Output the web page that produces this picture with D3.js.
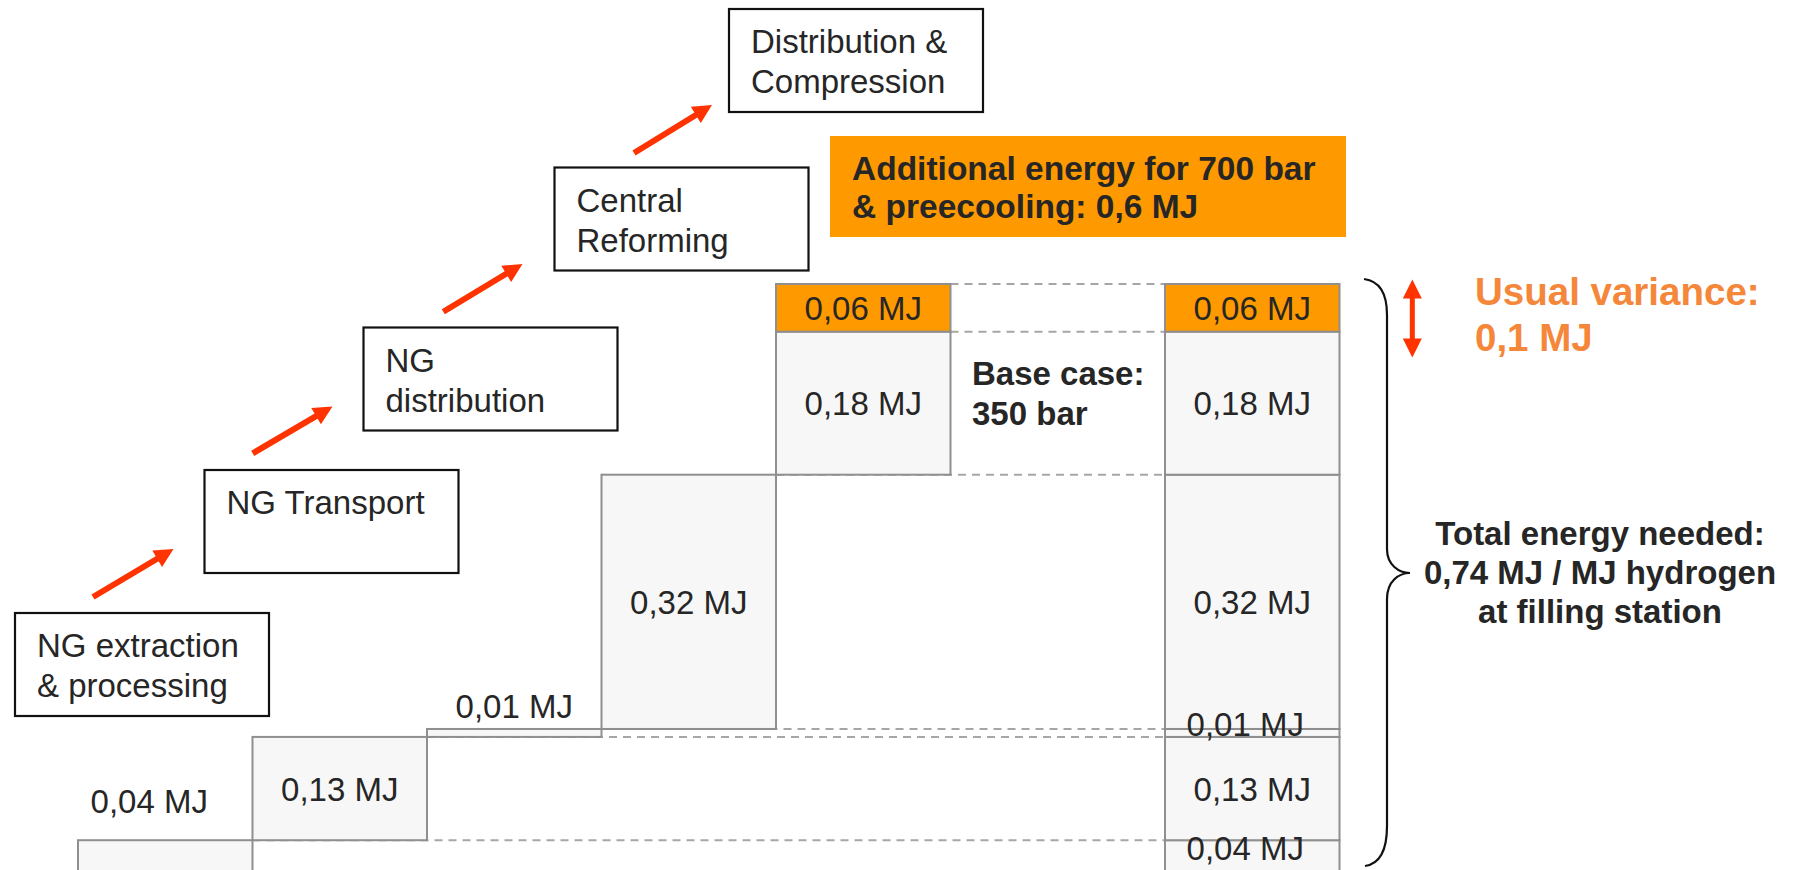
<!DOCTYPE html>
<html>
<head>
<meta charset="utf-8">
<script src="https://cdn.jsdelivr.net/npm/d3@7/dist/d3.min.js"></script>
<style>
  html, body { margin: 0; padding: 0; background: #ffffff; }
  svg { display: block; }
  text { font-family: "Liberation Sans", Arial, sans-serif; }
</style>
</head>
<body>
<svg id="chart" width="1793" height="870"></svg>
<script>
// ---------------- DATA ----------------
const steps = ["NG extraction & processing", "NG Transport", "NG distribution", "Central Reforming", "Distribution & Compression"];
const stepLines = [["NG extraction", "& processing"], ["NG Transport"], ["NG", "distribution"], ["Central", "Reforming"], ["Distribution &", "Compression"]];
const stepValues = [0.04, 0.13, 0.01, 0.32, 0.18];
const extraValue = 0.06;           // additional 700 bar & precooling on top of last step
const totalValue = 0.74;
const unit = "MJ";
const extraNote = ["Additional energy for 700 bar", "& preecooling: 0,6 MJ"];
const baseCaseNote = ["Base case:", "350 bar"];
const varianceNote = ["Usual variance:", "0,1 MJ"];
const totalNote = ["Total energy needed:", "0,74 MJ / MJ hydrogen", "at filling station"];

// ---------------- LAYOUT ----------------
const W = 1793, H = 870;
const svg = d3.select("#chart");
const C = {
  text: "#262626", barFill: "#f7f7f7", barStroke: "#8f8f8f", dash: "#a6a6a6",
  orange: "#ff9900", arrow: "#ff3300", variance: "#f5873b"
};
const y = d3.scaleLinear().domain([0, totalValue]).range([872, 284]);
const x = d3.scaleBand().domain(steps).range([78, 950.5]).paddingInner(0);
const bw = x.bandwidth();
const xTotal = 1165;

const locale = d3.formatLocale({ decimal: ",", thousands: ".", grouping: [3], currency: ["", "€"] });
const fmt = v => locale.format(".2f")(v) + " " + unit;

// cumulative positions
let cum = 0;
const stepBars = stepValues.map((v, i) => { const b = { name: steps[i], i, v, y0: cum, y1: cum + v }; cum += v; return b; });
const extraBar = { v: extraValue, y0: cum, y1: cum + extraValue };
const totalSegs = stepValues.concat([extraValue]).map((v, i, a) => {
  const y0 = d3.sum(a.slice(0, i)); return { v, y0, y1: y0 + v, extra: i === a.length - 1 };
});

// ---------------- CONNECTORS (dashed) ----------------
const gConn = svg.append("g");
const levels = stepBars.map(b => ({ lvl: b.y1, x0: x(b.name) + bw }))
  .concat([{ lvl: extraBar.y1, x0: x(steps[4]) + bw }]);
gConn.selectAll("line").data(levels).join("line")
  .attr("x1", d => d.x0).attr("x2", xTotal)
  .attr("y1", d => y(d.lvl)).attr("y2", d => y(d.lvl))
  .attr("stroke", C.dash).attr("stroke-width", 2).attr("stroke-dasharray", "8,6");

// ---------------- STEP BARS ----------------
const gBars = svg.append("g");
gBars.selectAll("rect.step").data(stepBars).join("rect").attr("class", "step")
  .attr("x", d => x(d.name)).attr("width", bw)
  .attr("y", d => y(d.y1)).attr("height", d => y(d.y0) - y(d.y1))
  .attr("fill", C.barFill).attr("stroke", C.barStroke).attr("stroke-width", 2);
gBars.append("rect")
  .attr("x", x(steps[4])).attr("width", bw)
  .attr("y", y(extraBar.y1)).attr("height", y(extraBar.y0) - y(extraBar.y1))
  .attr("fill", C.orange).attr("stroke", C.barStroke).attr("stroke-width", 2);

// total bar
gBars.selectAll("rect.total").data(totalSegs).join("rect").attr("class", "total")
  .attr("x", xTotal).attr("width", bw)
  .attr("y", d => y(d.y1)).attr("height", d => y(d.y0) - y(d.y1))
  .attr("fill", d => d.extra ? C.orange : C.barFill)
  .attr("stroke", C.barStroke).attr("stroke-width", 2);

// ---------------- VALUE LABELS ----------------
const gLab = svg.append("g").attr("font-size", 33).attr("fill", C.text).attr("text-anchor", "middle");
stepBars.forEach(b => {
  const cx = x(b.name) + bw / 2;
  const hgt = Math.min(y(b.y0), H) - y(b.y1);
  if (hgt < 40) {
    gLab.append("text").attr("x", cx + (b.i === 0 ? -16 : 0))
      .attr("y", y(b.y1) - (b.i === 0 ? 27 : 11)).text(fmt(b.v));
  } else {
    gLab.append("text").attr("x", cx).attr("y", (y(b.y0) + y(b.y1)) / 2 + 12).text(fmt(b.v));
  }
});
gLab.append("text").attr("x", x(steps[4]) + bw / 2)
  .attr("y", (y(extraBar.y0) + y(extraBar.y1)) / 2 + 12).text(fmt(extraBar.v));
totalSegs.forEach(s => {
  const small = s.v < 0.05;
  gLab.append("text").attr("x", xTotal + bw / 2 + (small ? -7 : 0))
    .attr("y", (y(s.y0) + y(s.y1)) / 2 + (small ? 3.5 : 12)).text(fmt(s.v));
});

// ---------------- PROCESS BOXES ----------------
const boxPos = [[15, 613], [204.5, 470], [363.5, 327.5], [554.5, 167.5], [729, 9]];
const gBox = svg.append("g");
stepLines.forEach((lines, i) => {
  const [bx, by] = boxPos[i];
  gBox.append("rect").attr("x", bx).attr("y", by).attr("width", 254).attr("height", 103)
    .attr("fill", "#fff").attr("stroke", "#111").attr("stroke-width", 2.2);
  const t = gBox.append("text").attr("font-size", 33).attr("fill", C.text);
  lines.forEach((l, k) => t.append("tspan").attr("x", bx + 22).attr("y", by + 44 + k * 40).text(l));
});

// ---------------- ARROWS ----------------
function arrow(g, x1, y1, x2, y2, shaft, L, Wd, color) {
  const dx = x2 - x1, dy = y2 - y1, len = Math.hypot(dx, dy);
  const ux = dx / len, uy = dy / len, nx = -uy, ny = ux;
  const bx = x2 - ux * L, by = y2 - uy * L;
  g.append("line").attr("x1", x1).attr("y1", y1).attr("x2", bx + ux).attr("y2", by + uy)
    .attr("stroke", color).attr("stroke-width", shaft);
  g.append("path").attr("d", d3.line()([[x2, y2], [bx + nx * Wd / 2, by + ny * Wd / 2], [bx - nx * Wd / 2, by - ny * Wd / 2]]) + "Z")
    .attr("fill", color);
}
const gArr = svg.append("g");
const arrowPos = [[93, 597, 173.5, 549], [252.7, 453.3, 332.5, 406.5], [443.3, 311.7, 522.5, 264], [634, 153, 712, 105]];
arrowPos.forEach(a => arrow(gArr, a[0], a[1], a[2], a[3], 6, 19, 19, C.arrow));

// double vertical arrow (variance)
arrow(gArr, 1412.3, 318, 1412.3, 279.5, 5, 19, 19, C.arrow);
arrow(gArr, 1412.3, 318, 1412.3, 357.5, 5, 19, 19, C.arrow);

// ---------------- ANNOTATIONS ----------------
svg.append("rect").attr("x", 830).attr("y", 136).attr("width", 516).attr("height", 101).attr("fill", C.orange);
const tExtra = svg.append("text").attr("font-size", 33.5).attr("font-weight", "bold").attr("fill", C.text);
extraNote.forEach((l, k) => tExtra.append("tspan").attr("x", 852).attr("y", 180 + k * 38).text(l));

const tBase = svg.append("text").attr("font-size", 33).attr("font-weight", "bold").attr("fill", C.text);
baseCaseNote.forEach((l, k) => tBase.append("tspan").attr("x", 972).attr("y", 385 + k * 40).text(l));

const tVar = svg.append("text").attr("font-size", 38.5).attr("font-weight", "bold").attr("fill", C.variance);
varianceNote.forEach((l, k) => tVar.append("tspan").attr("x", 1475).attr("y", 305 + k * 46).text(l));

const tTot = svg.append("text").attr("font-size", 33).attr("font-weight", "bold").attr("fill", C.text).attr("text-anchor", "middle");
totalNote.forEach((l, k) => tTot.append("tspan").attr("x", 1600).attr("y", 545 + k * 39).text(l));

// curly brace spanning the total bar
const yTop = y(totalValue) - 5, yBot = 866, xb = 1387, tipY = 573;
svg.append("path")
  .attr("d", `M1364,${yTop} C1380,${yTop + 2} ${xb},${yTop + 14} ${xb},${yTop + 36}
              L${xb},${tipY - 24} C${xb},${tipY - 8} ${xb + 12},${tipY} ${xb + 23},${tipY}
              C${xb + 12},${tipY} ${xb},${tipY + 8} ${xb},${tipY + 26}
              L${xb},${yBot - 40} C${xb},${yBot - 14} ${xb - 8},${yBot - 2} 1365,${yBot}`)
  .attr("fill", "none").attr("stroke", "#111").attr("stroke-width", 2.2);
</script>
</body>
</html>
